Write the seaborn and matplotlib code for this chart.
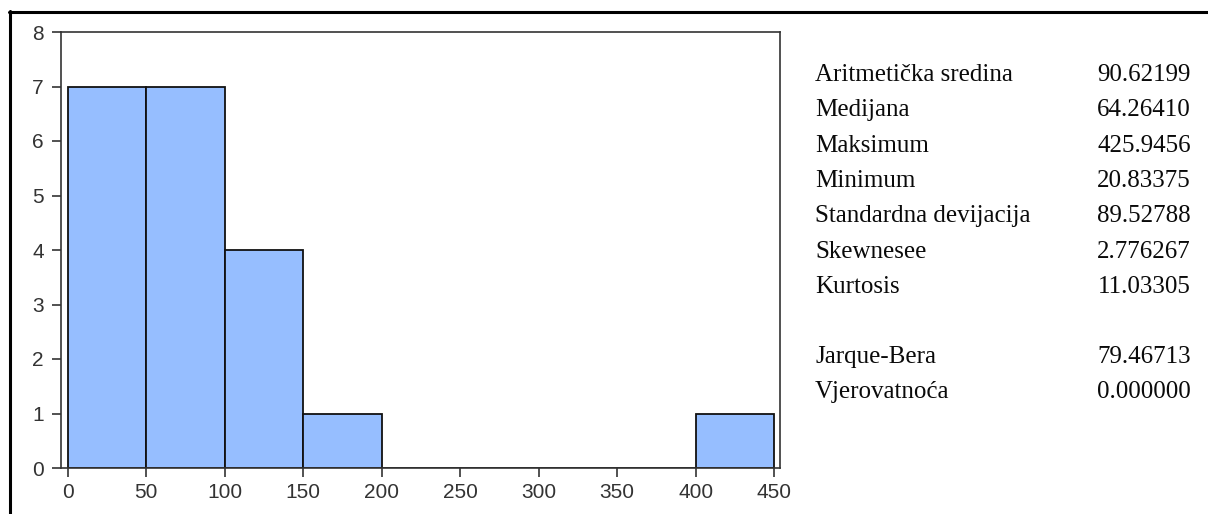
import matplotlib
matplotlib.use("Agg")
import matplotlib.pyplot as plt
from matplotlib.lines import Line2D
import seaborn as sns

# Histogram bins (width 50) and frequencies
bin_edges = [0, 50, 100, 150, 200, 250, 300, 350, 400, 450]
bin_counts = [7, 7, 4, 1, 0, 0, 0, 0, 1]
bin_centers = [(a + b) / 2 for a, b in zip(bin_edges[:-1], bin_edges[1:])]

x_ticks = [0, 50, 100, 150, 200, 250, 300, 350, 400, 450]
y_ticks = [0, 1, 2, 3, 4, 5, 6, 7, 8]

# Descriptive statistics panel
stat_labels = ["Aritmetička sredina", "Medijana", "Maksimum", "Minimum",
               "Standardna devijacija", "Skewnesee", "Kurtosis"]
stat_values = ["90.62199", "64.26410", "425.9456", "20.83375",
               "89.52788", "2.776267", "11.03305"]
test_labels = ["Jarque-Bera", "Vjerovatnoća"]
test_values = ["79.46713", "0.000000"]

sns.set_style("white")
plt.rcParams["font.family"] = ["Liberation Sans", "DejaVu Sans"]

W, H = 1208, 514
fig = plt.figure(figsize=(W / 100, H / 100), dpi=100)
ax = fig.add_axes([61 / W, 1 - 468 / H, (780 - 61) / W, (468 - 32) / H])

sns.histplot(x=bin_centers, weights=bin_counts, bins=bin_edges, ax=ax,
             color="#96BEFF", edgecolor="#111111", linewidth=1.3, alpha=1.0)

ax.set_xlim(-4.3, 453.7)
ax.set_ylim(0, 8)
ax.set_xticks(x_ticks)
ax.set_yticks(y_ticks)
ax.set_xlabel("")
ax.set_ylabel("")
for sp in ax.spines.values():
    sp.set_visible(True)
    sp.set_color("#333333")
    sp.set_linewidth(1.2)
ax.tick_params(axis="both", direction="out", length=6.5, width=1.2,
               color="#333333", labelsize=15, labelcolor="#333333",
               left=True, bottom=True)
ax.tick_params(axis="x", pad=4.5)
ax.tick_params(axis="y", pad=6)

# Outer frame (top and left edges)
fig.add_artist(Line2D([9 / W, 1.0], [1 - 12 / H, 1 - 12 / H],
                      transform=fig.transFigure, color="black", linewidth=2.2))
fig.add_artist(Line2D([10 / W, 10 / W], [0.0, 1 - 11 / H],
                      transform=fig.transFigure, color="black", linewidth=2.2))

# Statistics text
serif = ["Liberation Serif", "DejaVu Serif"]
fs = 18
x_left, x_right = 815 / W, 1191 / W
y0, dy = 75, 35.3
for i, (lab, val) in enumerate(zip(stat_labels, stat_values)):
    y = 1 - (y0 + i * dy) / H
    fig.text(x_left, y, lab, ha="left", va="center", family=serif, fontsize=fs, color="#0a0a0a")
    fig.text(x_right, y, val, ha="right", va="center", family=serif, fontsize=fs, color="#0a0a0a")
for i, (lab, val) in enumerate(zip(test_labels, test_values)):
    y = 1 - (357 + i * dy) / H
    fig.text(x_left, y, lab, ha="left", va="center", family=serif, fontsize=fs, color="#0a0a0a")
    fig.text(x_right, y, val, ha="right", va="center", family=serif, fontsize=fs, color="#0a0a0a")

fig.savefig("out.png", dpi=100)
